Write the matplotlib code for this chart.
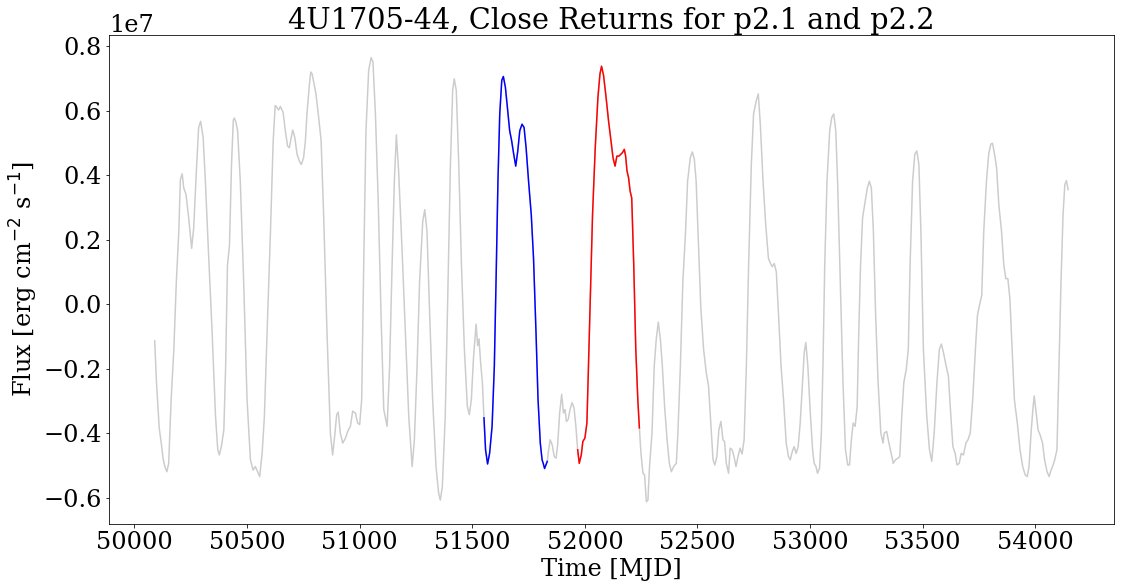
import numpy as np
import matplotlib
matplotlib.use("Agg")
import matplotlib.pyplot as plt

plt.rcParams['font.family'] = 'serif'
plt.rcParams['font.size'] = 24

# light curve values (flux in units of 1e7)
t_before = [50090, 50098, 50110, 50120, 50127, 50135, 50144, 50152, 50163, 50175,
            50186, 50197, 50204, 50212, 50219, 50229, 50241, 50254, 50263, 50275,
            50285, 50294, 50305, 50315, 50330, 50345, 50360, 50370, 50377, 50386,
            50397, 50405, 50413, 50422, 50431, 50439, 50444, 50451, 50458, 50470,
            50485, 50500, 50515, 50527, 50537, 50547, 50556, 50567, 50577, 50589,
            50604, 50616, 50625, 50633, 50640, 50648, 50660, 50670, 50680, 50688,
            50696, 50703, 50712, 50722, 50732, 50741, 50751, 50759, 50766, 50777,
            50783, 50789, 50796, 50806, 50818, 50829, 50840, 50855, 50870, 50880,
            50889, 50898, 50905, 50914, 50925, 50937, 50947, 50959, 50969, 50981,
            50991, 51000, 51009, 51018, 51028, 51040, 51051, 51059, 51070, 51082,
            51095, 51107, 51122, 51133, 51144, 51154, 51163, 51173, 51188, 51203,
            51218, 51233, 51243, 51255, 51266, 51280, 51289, 51299, 51311, 51324,
            51339, 51351, 51358, 51367, 51380, 51391, 51403, 51413, 51420, 51429,
            51440, 51452, 51465, 51478, 51487, 51496, 51505, 51517, 51524, 51530,
            51537, 51545, 51552]
f_before = [-0.114, -0.244, -0.384, -0.436, -0.478, -0.504, -0.520, -0.494, -0.296, -0.140,
            0.069, 0.225, 0.386, 0.404, 0.360, 0.340, 0.267, 0.173, 0.235, 0.413,
            0.548, 0.567, 0.517, 0.381, 0.142, -0.088, -0.348, -0.452, -0.468, -0.442,
            -0.390, -0.192, 0.121, 0.183, 0.433, 0.571, 0.577, 0.563, 0.538, 0.381,
            0.069, -0.296, -0.483, -0.515, -0.504, -0.520, -0.535, -0.463, -0.348, -0.088,
            0.225, 0.506, 0.616, 0.610, 0.602, 0.613, 0.595, 0.538, 0.490, 0.485,
            0.517, 0.540, 0.517, 0.465, 0.444, 0.433, 0.454, 0.506, 0.590, 0.683,
            0.720, 0.714, 0.688, 0.652, 0.579, 0.506, 0.277, -0.088, -0.400, -0.468,
            -0.410, -0.343, -0.335, -0.400, -0.431, -0.416, -0.395, -0.379, -0.332, -0.338,
            -0.369, -0.374, -0.296, 0.121, 0.538, 0.725, 0.765, 0.751, 0.590, 0.329,
            -0.035, -0.327, -0.379, -0.192, 0.121, 0.381, 0.525, 0.413, 0.173, -0.088,
            -0.348, -0.504, -0.421, -0.192, 0.069, 0.256, 0.293, 0.225, -0.035, -0.296,
            -0.504, -0.588, -0.608, -0.567, -0.348, 0.017, 0.433, 0.663, 0.699, 0.663,
            0.433, 0.121, -0.140, -0.317, -0.343, -0.296, -0.171, -0.062, -0.129, -0.108,
            -0.181, -0.244, -0.353]

t_p21 = [51552, 51559, 51568, 51577, 51588, 51598, 51607, 51614, 51622, 51631,
         51638, 51647, 51656, 51666, 51675, 51684, 51693, 51702, 51711, 51721,
         51730, 51739, 51750, 51762, 51772, 51783, 51792, 51802, 51810, 51815,
         51821, 51827, 51833]
f_p21 = [-0.353, -0.452, -0.496, -0.463, -0.379, -0.192, 0.121, 0.381, 0.590, 0.694,
         0.706, 0.673, 0.610, 0.538, 0.506, 0.465, 0.428, 0.475, 0.538, 0.558,
         0.548, 0.485, 0.381, 0.277, 0.142, -0.088, -0.296, -0.431, -0.483, -0.494,
         -0.510, -0.499, -0.488]

t_mid = [51833, 51839, 51846, 51855, 51864, 51872, 51879, 51888, 51897, 51905,
         51912, 51918, 51926, 51934, 51943, 51952, 51960, 51968]
f_mid = [-0.488, -0.452, -0.421, -0.437, -0.473, -0.478, -0.437, -0.338, -0.280, -0.338,
         -0.327, -0.364, -0.358, -0.327, -0.306, -0.322, -0.379, -0.452]

t_p22 = [51968, 51975, 51984, 51991, 52000, 52009, 52016, 52024, 52034, 52046,
         52058, 52067, 52074, 52083, 52094, 52105, 52116, 52125, 52134, 52142,
         52151, 52160, 52167, 52175, 52181, 52187, 52194, 52201, 52208, 52217,
         52226, 52235, 52242]
f_p22 = [-0.452, -0.494, -0.468, -0.426, -0.416, -0.369, -0.192, 0.017, 0.277, 0.485,
         0.642, 0.714, 0.738, 0.709, 0.642, 0.569, 0.506, 0.454, 0.428, 0.459,
         0.459, 0.465, 0.470, 0.480, 0.459, 0.413, 0.392, 0.350, 0.329, 0.121,
         -0.140, -0.296, -0.384]

t_after = [52242, 52249, 52258, 52265, 52273, 52280, 52287, 52298, 52308, 52317,
           52326, 52335, 52344, 52354, 52365, 52375, 52384, 52394, 52406, 52413,
           52424, 52435, 52447, 52456, 52468, 52477, 52486, 52494, 52505, 52515,
           52527, 52539, 52549, 52560, 52569, 52577, 52586, 52595, 52604, 52613,
           52620, 52628, 52638, 52645, 52654, 52662, 52671, 52680, 52689, 52698,
           52707, 52717, 52727, 52739, 52749, 52761, 52770, 52779, 52791, 52803,
           52815, 52824, 52832, 52841, 52850, 52860, 52871, 52882, 52894, 52904,
           52912, 52921, 52929, 52938, 52947, 52956, 52966, 52974, 52981, 52990,
           53000, 53011, 53018, 53026, 53033, 53042, 53050, 53057, 53065, 53075,
           53087, 53096, 53105, 53114, 53122, 53134, 53146, 53157, 53167, 53175,
           53182, 53191, 53200, 53209, 53216, 53224, 53233, 53242, 53254, 53263,
           53272, 53281, 53291, 53302, 53314, 53324, 53329, 53340, 53350, 53360,
           53369, 53379, 53390, 53398, 53407, 53416, 53427, 53436, 53444, 53455,
           53465, 53474, 53483, 53492, 53503, 53518, 53530, 53540, 53551, 53563,
           53574, 53583, 53592, 53604, 53614, 53625, 53634, 53644, 53652, 53662,
           53671, 53681, 53692, 53701, 53711, 53722, 53734, 53743, 53752, 53762,
           53771, 53783, 53793, 53802, 53810, 53819, 53828, 53838, 53850, 53860,
           53869, 53878, 53887, 53897, 53907, 53920, 53932, 53944, 53955, 53964,
           53972, 53981, 53989, 53995, 54004, 54012, 54021, 54032, 54041, 54052,
           54061, 54070, 54079, 54086, 54096, 54105, 54114, 54123, 54131, 54138,
           54146]
f_after = [-0.384, -0.463, -0.525, -0.530, -0.613, -0.608, -0.504, -0.400, -0.192, -0.108,
           -0.056, -0.108, -0.192, -0.317, -0.421, -0.494, -0.520, -0.504, -0.494, -0.400,
           -0.192, 0.069, 0.225, 0.381, 0.454, 0.472, 0.449, 0.381, 0.173, -0.015,
           -0.140, -0.213, -0.254, -0.379, -0.483, -0.499, -0.473, -0.390, -0.364, -0.421,
           -0.426, -0.494, -0.525, -0.447, -0.452, -0.473, -0.504, -0.473, -0.447, -0.465,
           -0.421, -0.192, 0.121, 0.433, 0.590, 0.631, 0.652, 0.558, 0.381, 0.246,
           0.142, 0.126, 0.116, 0.126, 0.100, -0.035, -0.192, -0.296, -0.431, -0.473,
           -0.483, -0.457, -0.442, -0.463, -0.442, -0.369, -0.244, -0.150, -0.119, -0.192,
           -0.327, -0.452, -0.494, -0.504, -0.525, -0.509, -0.400, -0.192, 0.121, 0.381,
           0.538, 0.579, 0.590, 0.538, 0.381, 0.069, -0.244, -0.452, -0.499, -0.499,
           -0.431, -0.369, -0.379, -0.317, -0.088, 0.121, 0.267, 0.308, 0.360, 0.381,
           0.360, 0.225, -0.035, -0.244, -0.400, -0.431, -0.400, -0.395, -0.431, -0.463,
           -0.494, -0.483, -0.478, -0.473, -0.348, -0.244, -0.202, -0.140, 0.121, 0.381,
           0.465, 0.475, 0.433, 0.225, -0.140, -0.348, -0.452, -0.488, -0.400, -0.244,
           -0.140, -0.124, -0.150, -0.192, -0.223, -0.348, -0.442, -0.463, -0.499, -0.494,
           -0.463, -0.468, -0.431, -0.421, -0.400, -0.296, -0.140, -0.035, -0.004, 0.027,
           0.225, 0.381, 0.465, 0.496, 0.499, 0.465, 0.423, 0.308, 0.225, 0.121,
           0.079, 0.079, 0.017, -0.140, -0.296, -0.369, -0.452, -0.504, -0.530, -0.535,
           -0.504, -0.400, -0.327, -0.285, -0.338, -0.390, -0.405, -0.431, -0.483, -0.520,
           -0.535, -0.515, -0.499, -0.483, -0.452, -0.192, 0.069, 0.277, 0.371, 0.383,
           0.355]

scale = 1e7
t_all = t_before + t_p21[1:] + t_mid[1:] + t_p22[1:] + t_after[1:]
f_all = f_before + f_p21[1:] + f_mid[1:] + f_p22[1:] + f_after[1:]

fig = plt.figure(figsize=(1124 / 72, 588 / 72), dpi=72)
ax = fig.add_subplot(111)
fig.subplots_adjust(left=0.097, right=0.991, top=0.940, bottom=0.109)

ax.plot(t_all, np.array(f_all) * scale, color='0.8')
ax.plot(t_p21, np.array(f_p21) * scale, color='blue')
ax.plot(t_p22, np.array(f_p22) * scale, color='red')

ax.ticklabel_format(axis='y', style='sci', scilimits=(7, 7))

ax.set_title('4U1705-44, Close Returns for p2.1 and p2.2')
ax.set_xlabel('Time [MJD]')
ax.set_ylabel(r'Flux [erg cm$^{-2}$ s$^{-1}$]')

fig.savefig('out.png', dpi=72)
